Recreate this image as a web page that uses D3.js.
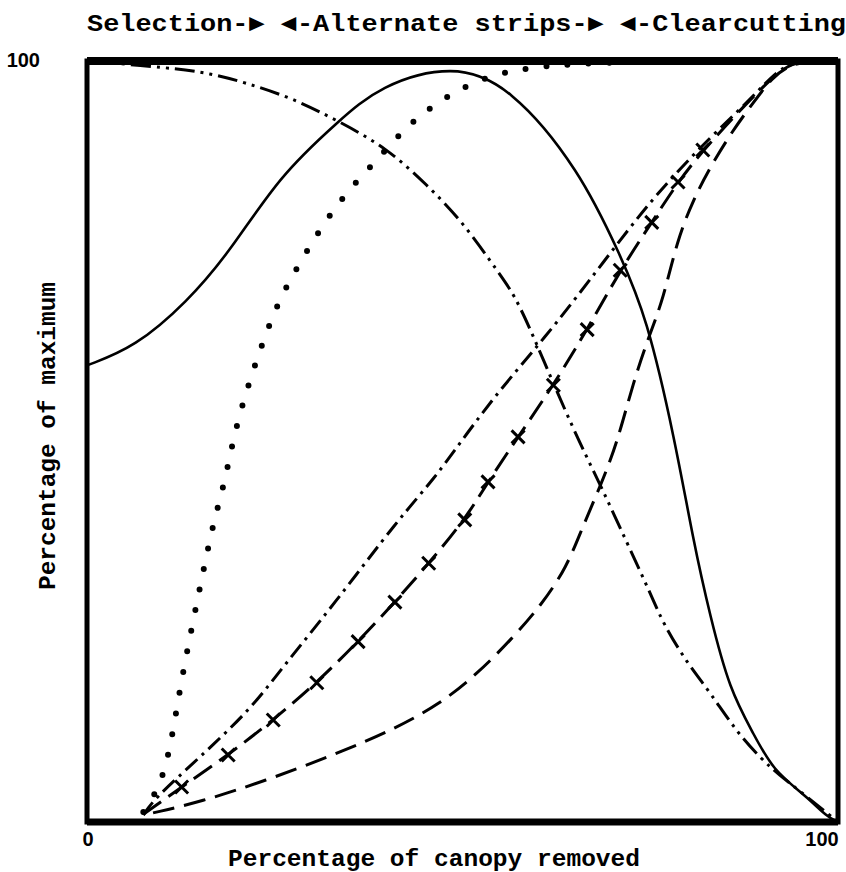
<!DOCTYPE html>
<html lang="en">
<head>
  <meta charset="utf-8">
  <title>Canopy removal curves</title>
  <script src="https://d3js.org/d3.v7.min.js"></script>
  <style>
    body { margin: 0; background: #fff; }
    .mono { font-family: "Liberation Mono", "DejaVu Sans Mono", monospace; font-weight: bold; }
    .lbl { font-family: "Liberation Sans", Arial, sans-serif; font-weight: bold; }
  </style>
</head>
<body>
<div id="chart"></div>
<script>
const width = 846, height = 872;
const margin = {top: 61, right: 8, bottom: 50, left: 87};

// solid curve: rises to a peak near half removal, then falls
const solidX = [0, 6.4, 13.3, 19.0, 25.7, 33.4, 39.0, 48.7, 56.3, 65.6, 71.0, 74.5, 78.3, 80.7, 83.0, 85.6, 88.7, 91.3, 95.9, 98.5, 100];
const solidY = [60.0, 62.4, 68.3, 74.9, 85.0, 92.0, 96.8, 99.6, 96.8, 85.7, 74.5, 66.5, 50.2, 37.1, 26.9, 17.3, 11.7, 6.8, 3.3, 0.7, 0];

// dash-dot-dot curve: falls from 100
const fallX = [0, 11.1, 16.4, 21.3, 27.4, 33.3, 39.9, 45.3, 50.1, 55.0, 57.4, 61.7, 65.6, 68.7, 71.9, 75.0, 76.7, 79.9, 83.0, 86.6, 90.0, 91.9, 95.9, 100];
const fallY = [100, 99.1, 98.4, 97.1, 95.1, 92.2, 88.6, 83.7, 78.8, 71.9, 68.6, 58.5, 49.8, 43.6, 36.7, 30.1, 26.1, 20.9, 17.0, 11.7, 8.1, 6.4, 3.3, 0];

// large dots curve
const dotX = [7.5, 9.7, 11.1, 12.4, 14.0, 15.6, 16.8, 18.4, 19.6, 21.4, 23.4, 25.7, 28.6, 31.6, 34.8, 38.6, 41.9, 45.5, 49.9, 55.0, 63.0, 75.0, 100];
const dotY = [1.3, 4.6, 9.7, 17.7, 25.8, 33.5, 39.2, 44.9, 51.0, 57.2, 63.1, 68.9, 73.9, 78.8, 83.0, 87.0, 90.7, 93.8, 96.5, 98.6, 99.6, 100, 100];

// dash-dot curve
const dashDotX = [7.5, 8.8, 15.0, 21.7, 26.1, 32.8, 41.7, 46.1, 50.6, 55.0, 60.3, 64.7, 72.7, 77.2, 83.0, 88.3, 92.3, 95.0, 100];
const dashDotY = [0.9, 2.9, 8.5, 14.7, 20.4, 28.5, 40.1, 44.9, 51.1, 56.8, 62.9, 68.3, 78.7, 84.0, 90.0, 94.9, 99.2, 100, 100];

// dashed curve with x markers
const crossX = [7.5, 12.6, 18.8, 24.8, 30.6, 36.1, 41.0, 45.5, 50.3, 53.4, 57.4, 62.1, 66.6, 71.0, 75.2, 78.7, 82.0, 92.3, 95.0, 100];
const crossY = [1.0, 4.6, 8.8, 13.4, 18.3, 23.7, 28.9, 34.0, 39.7, 44.7, 50.6, 57.4, 64.7, 72.5, 78.8, 84.1, 88.3, 99.2, 100, 100];
const crossMarks = [1, 2, 3, 4, 5, 6, 7, 8, 9, 10, 11, 12, 13, 14, 15, 16];

// long dashed curve, slow then steep rise
const dashX = [8.8, 15.0, 24.0, 32.8, 40.7, 47.0, 52.0, 56.5, 60.5, 63.9, 66.0, 68.3, 70.6, 72.7, 75.0, 76.7, 78.6, 80.7, 83.0, 86.0, 88.7, 91.3, 93.6, 96.3, 100];
const dashY = [1.2, 2.6, 5.5, 8.8, 12.1, 15.5, 19.5, 24.0, 28.5, 33.5, 38.8, 44.0, 49.8, 57.7, 64.3, 68.6, 76.5, 81.7, 86.1, 90.9, 94.5, 97.9, 99.5, 100, 100];

const titleText = "Selection-\u25BA \u25C4-Alternate strips-\u25BA \u25C4-Clearcutting";
const xLabel = "Percentage of canopy removed";
const yLabel = "Percentage of maximum";
const ticks = [0, 100];

const x = d3.scaleLinear().domain([0, 100]).range([margin.left, width - margin.right]);
const y = d3.scaleLinear().domain([0, 100]).range([height - margin.bottom, margin.top]);

const svg = d3.select("#chart").append("svg")
    .attr("width", width)
    .attr("height", height);

const line = d3.line()
    .x(d => x(d[0]))
    .y(d => y(d[1]))
    .curve(d3.curveBasis);

const zip = (a, b) => a.map((v, i) => [v, b[i]]);

const series = [
  {pts: zip(solidX, solidY), dash: null, w: 2.6, cap: "butt"},
  {pts: zip(fallX, fallY), dash: "20,6,3,6,3,6", w: 3, cap: "butt"},
  {pts: zip(dotX, dotY), dash: "0,21", w: 6, cap: "round"},
  {pts: zip(dashDotX, dashDotY), dash: "16,6,3,6", w: 3, cap: "butt"},
  {pts: zip(crossX, crossY), dash: "22,9", w: 3, cap: "butt"},
  {pts: zip(dashX, dashY), dash: "22,10", w: 3, cap: "butt"}
];

svg.append("g")
  .selectAll("path")
  .data(series)
  .join("path")
    .attr("d", d => line(d.pts))
    .attr("fill", "none")
    .attr("stroke", "#000")
    .attr("stroke-width", d => d.w)
    .attr("stroke-linecap", d => d.cap)
    .attr("stroke-dasharray", d => d.dash);

// x markers
const s = 6.5;
svg.append("g")
  .selectAll("path")
  .data(crossMarks)
  .join("path")
    .attr("d", i => {
      const cx = x(crossX[i]), cy = y(crossY[i]);
      return `M${cx - s},${cy - s}L${cx + s},${cy + s}M${cx - s},${cy + s}L${cx + s},${cy - s}`;
    })
    .attr("stroke", "#000")
    .attr("stroke-width", 3);

// frame
svg.append("rect")
    .attr("x", x(0))
    .attr("y", y(100))
    .attr("width", x(100) - x(0))
    .attr("height", y(0) - y(100))
    .attr("fill", "none")
    .attr("stroke", "#000")
    .attr("stroke-width", 5);
svg.append("line")
    .attr("x1", x(0)).attr("x2", x(100))
    .attr("y1", y(100)).attr("y2", y(100))
    .attr("stroke", "#000").attr("stroke-width", 8);
svg.append("line")
    .attr("x1", x(0)).attr("x2", x(100))
    .attr("y1", y(0)).attr("y2", y(0))
    .attr("stroke", "#000").attr("stroke-width", 7);

// tick labels
svg.append("text").attr("class", "lbl")
    .attr("font-size", 20)
    .attr("x", 40).attr("y", y(100) + 6)
    .attr("text-anchor", "end")
    .text(ticks[1]);
svg.append("text").attr("class", "lbl")
    .attr("font-size", 20)
    .attr("x", x(0) + 1).attr("y", y(0) + 24)
    .attr("text-anchor", "middle")
    .text(ticks[0]);
svg.append("text").attr("class", "lbl")
    .attr("font-size", 20)
    .attr("x", x(100) - 16).attr("y", y(0) + 24)
    .attr("text-anchor", "middle")
    .text(ticks[1]);

// titles
svg.append("text").attr("class", "mono")
    .attr("x", 87).attr("y", 31)
    .attr("font-size", 24)
    .attr("textLength", 759)
    .attr("lengthAdjust", "spacingAndGlyphs")
    .text(titleText);

svg.append("text").attr("class", "mono")
    .attr("x", 228).attr("y", 866)
    .attr("font-size", 23)
    .attr("textLength", 412)
    .attr("lengthAdjust", "spacingAndGlyphs")
    .text(xLabel);

svg.append("text").attr("class", "mono")
    .attr("transform", "translate(55,590) rotate(-90)")
    .attr("font-size", 23)
    .attr("textLength", 308)
    .attr("lengthAdjust", "spacingAndGlyphs")
    .text(yLabel);
</script>
</body>
</html>
